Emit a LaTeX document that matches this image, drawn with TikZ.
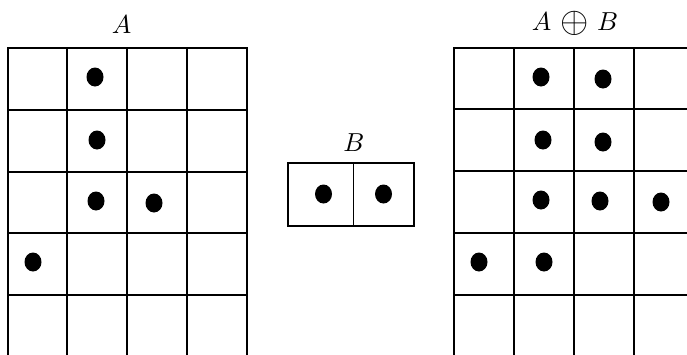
\documentclass[tikz,border=0pt]{standalone}
\begin{document}
\begin{tikzpicture}[x=1pt,y=-1pt,
  gridline/.style={line width=2pt, line cap=rect},
  dot/.style={fill=black, draw=none},
  lbl/.style={scale=2.6, inner sep=0pt}]
\useasboundingbox (0,0) rectangle (687,354);
% left grid A
\foreach \x in {8,67,127,187,247} \draw[gridline] (\x,48) -- (\x,356);
\foreach \y in {48,110,172,233,295} \draw[gridline] (8,\y) -- (247,\y);
\node[lbl] (la) at (121.5,24.5) {$A$};
\foreach \p in {(95,77),(97,140),(96,201),(154,203),(33,262)}
  \fill[dot] \p ellipse (8.5 and 9.5);
% B
\draw[line width=2pt] (288,162.5) rectangle (414,225.5);
\draw[line width=1pt] (353.5,162.5) -- (353.5,225.5);
\node[lbl] (lb) at (354,142.5) {$B$};
\foreach \p in {(323.5,194),(383.5,194)}
  \fill[dot] \p ellipse (8.5 and 9.5);
% right grid A+B
\foreach \x in {453.5,514,574,634} \draw[gridline] (\x,48) -- (\x,356);
\foreach \y in {48,109,171,233,295} \draw[gridline] (453.5,\y) -- (689,\y);
\node[lbl] (lab) at (575,23.5) {$A\mskip2mu\mathbin{\vcenter{\hbox{\scalebox{1.4}{$\oplus$}}}}\mskip2mu B$};
\foreach \p in {(541,77),(603,79),(543,140),(603,142),(541,200),(600,201),(661,202),(479,262),(544,262)}
  \fill[dot] \p ellipse (8.5 and 9.5);
\end{tikzpicture}
\end{document}
